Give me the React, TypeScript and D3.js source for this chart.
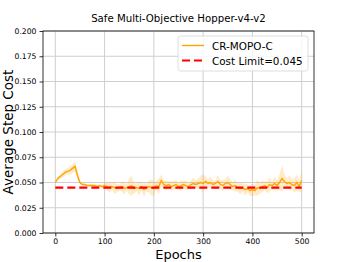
import { useEffect, useRef } from "react";
import * as d3 from "d3";

// epochs sampled every 5
const epochs = [
  0, 5, 10, 15, 20, 25, 30, 35, 40, 45, 50, 55, 60, 65, 70, 75, 80, 85, 90, 95,
  100, 105, 110, 115, 120, 125, 130, 135, 140, 145, 150, 155, 160, 165, 170, 175, 180, 185, 190, 195,
  200, 205, 210, 215, 220, 225, 230, 235, 240, 245, 250, 255, 260, 265, 270, 275, 280, 285, 290, 295,
  300, 305, 310, 315, 320, 325, 330, 335, 340, 345, 350, 355, 360, 365, 370, 375, 380, 385, 390, 395,
  400, 405, 410, 415, 420, 425, 430, 435, 440, 445, 450, 455, 460, 465, 470, 475, 480, 485, 490, 495, 500,
];

const meanCost = [
  0.05, 0.054, 0.056, 0.058, 0.06, 0.061, 0.062, 0.064, 0.066, 0.057, 0.05, 0.048, 0.048, 0.047, 0.047, 0.047, 0.047, 0.046, 0.047, 0.046,
  0.047, 0.046, 0.045, 0.046, 0.045, 0.044, 0.045, 0.046, 0.044, 0.045, 0.046, 0.047, 0.044, 0.045, 0.044, 0.046, 0.043, 0.045, 0.046, 0.045,
  0.044, 0.047, 0.046, 0.052, 0.048, 0.047, 0.048, 0.046, 0.047, 0.048, 0.046, 0.047, 0.048, 0.047, 0.046, 0.048, 0.049, 0.048, 0.049, 0.05,
  0.049, 0.051, 0.049, 0.05, 0.048, 0.049, 0.051, 0.048, 0.047, 0.049, 0.05, 0.048, 0.046, 0.047, 0.045, 0.044, 0.045, 0.043, 0.044, 0.042,
  0.043, 0.042, 0.045, 0.044, 0.046, 0.047, 0.045, 0.048, 0.047, 0.049, 0.047, 0.05, 0.054, 0.051, 0.049, 0.05, 0.048, 0.047, 0.05, 0.046, 0.052,
];

const costSpread = [
  0.001, 0.002, 0.002, 0.003, 0.003, 0.003, 0.004, 0.004, 0.005, 0.004, 0.002, 0.001, 0.001, 0.001, 0.001, 0.002, 0.001, 0.002, 0.001, 0.002,
  0.003, 0.004, 0.005, 0.003, 0.006, 0.004, 0.003, 0.005, 0.006, 0.003, 0.008, 0.01, 0.005, 0.004, 0.007, 0.004, 0.007, 0.004, 0.006, 0.008,
  0.007, 0.004, 0.008, 0.006, 0.004, 0.005, 0.003, 0.005, 0.004, 0.005, 0.003, 0.005, 0.004, 0.005, 0.003, 0.004, 0.006, 0.004, 0.005, 0.007,
  0.009, 0.005, 0.004, 0.006, 0.004, 0.003, 0.006, 0.004, 0.006, 0.004, 0.007, 0.005, 0.004, 0.006, 0.004, 0.006, 0.004, 0.006, 0.004, 0.005,
  0.006, 0.005, 0.008, 0.005, 0.006, 0.004, 0.006, 0.007, 0.004, 0.007, 0.005, 0.008, 0.013, 0.007, 0.005, 0.007, 0.005, 0.007, 0.008, 0.006, 0.011,
];

const costLimit = 0.045;
const xTicks = [0, 100, 200, 300, 400, 500];
const yTicks = [0, 0.025, 0.05, 0.075, 0.1, 0.125, 0.15, 0.175, 0.2];

export default function App() {
  const svgRef = useRef<SVGSVGElement>(null);

  useEffect(() => {
    if (!svgRef.current) return;
    const svg = d3.select(svgRef.current);
    svg.selectAll("*").remove();

    const margin = { top: 31, right: 35, bottom: 29, left: 43 };
    const width = 349;
    const height = 262;
    const font = "DejaVu Sans, sans-serif";

    const x = d3.scaleLinear().domain([-25, 525]).range([margin.left, width - margin.right]);
    const y = d3.scaleLinear().domain([0, 0.2]).range([height - margin.bottom, margin.top]);

    const pts = epochs.map((e, i) => ({ e, m: meanCost[i], s: costSpread[i] }));

    // grid
    const grid = svg.append("g");
    grid
      .selectAll(".gx")
      .data(xTicks)
      .enter()
      .append("line")
      .attr("x1", (d) => x(d))
      .attr("x2", (d) => x(d))
      .attr("y1", y(0))
      .attr("y2", y(0.2))
      .attr("stroke", "#cfcfcf")
      .attr("stroke-width", 1);
    grid
      .selectAll(".gy")
      .data(yTicks)
      .enter()
      .append("line")
      .attr("x1", x(-25))
      .attr("x2", x(525))
      .attr("y1", (d) => y(d))
      .attr("y2", (d) => y(d))
      .attr("stroke", "#cfcfcf")
      .attr("stroke-width", 1);

    // band
    const area = d3
      .area<{ e: number; m: number; s: number }>()
      .x((d) => x(d.e))
      .y0((d) => y(d.m - d.s))
      .y1((d) => y(d.m + d.s));
    svg.append("path").attr("d", area(pts)).attr("fill", "#ffa500").attr("opacity", 0.22);

    const line = d3
      .line<{ e: number; m: number; s: number }>()
      .x((d) => x(d.e))
      .y((d) => y(d.m));
    svg
      .append("path")
      .attr("d", line(pts))
      .attr("fill", "none")
      .attr("stroke", "#ffa500")
      .attr("stroke-width", 1.4);

    // cost limit
    svg
      .append("line")
      .attr("x1", x(0))
      .attr("x2", x(500))
      .attr("y1", y(costLimit))
      .attr("y2", y(costLimit))
      .attr("stroke", "red")
      .attr("stroke-width", 2.2)
      .attr("stroke-dasharray", "8,4");

    // axes
    const xAxis = svg
      .append("g")
      .attr("transform", `translate(0,${y(0)})`)
      .call(d3.axisBottom(x).tickValues(xTicks).tickSize(3.5).tickPadding(2));
    const yAxis = svg
      .append("g")
      .attr("transform", `translate(${x(-25)},0)`)
      .call(
        d3
          .axisLeft(y)
          .tickValues(yTicks)
          .tickSize(3.5)
          .tickPadding(3)
          .tickFormat((d) => (d as number).toFixed(3))
      );
    [xAxis, yAxis].forEach((a) => {
      a.select(".domain").remove();
      a.selectAll("line").attr("stroke", "#000").attr("stroke-width", 0.8);
      a.selectAll("text").attr("fill", "#000").style("font-family", font).style("font-size", "7.7px");
    });

    // frame
    svg
      .append("rect")
      .attr("x", x(-25))
      .attr("y", y(0.2))
      .attr("width", x(525) - x(-25))
      .attr("height", y(0) - y(0.2))
      .attr("fill", "none")
      .attr("stroke", "#000")
      .attr("stroke-width", 0.8);

    // title & labels
    svg
      .append("text")
      .attr("x", (x(-25) + x(525)) / 2)
      .attr("y", 22)
      .attr("text-anchor", "middle")
      .style("font-family", font)
      .style("font-size", "10.2px")
      .text("Safe Multi-Objective Hopper-v4-v2");
    svg
      .append("text")
      .attr("x", (x(-25) + x(525)) / 2)
      .attr("y", 258.5)
      .attr("text-anchor", "middle")
      .style("font-family", font)
      .style("font-size", "13px")
      .text("Epochs");
    svg
      .append("text")
      .attr("transform", `translate(12.5,${(y(0) + y(0.2)) / 2}) rotate(-90)`)
      .attr("text-anchor", "middle")
      .style("font-family", font)
      .style("font-size", "13.5px")
      .text("Average Step Cost");

    // legend
    const lg = svg.append("g").attr("transform", "translate(178,36)");
    lg.append("rect")
      .attr("width", 130)
      .attr("height", 35)
      .attr("rx", 2.5)
      .attr("fill", "#fff")
      .attr("fill-opacity", 0.8)
      .attr("stroke", "#d6d6d6")
      .attr("stroke-width", 0.8);
    lg.append("line")
      .attr("x1", 4)
      .attr("x2", 26)
      .attr("y1", 9.5)
      .attr("y2", 9.5)
      .attr("stroke", "#ffa500")
      .attr("stroke-width", 1.4);
    lg.append("line")
      .attr("x1", 4)
      .attr("x2", 26)
      .attr("y1", 24.5)
      .attr("y2", 24.5)
      .attr("stroke", "red")
      .attr("stroke-width", 2.2)
      .attr("stroke-dasharray", "8,4");
    lg.append("text")
      .attr("x", 34)
      .attr("y", 13.5)
      .style("font-family", font)
      .style("font-size", "10.4px")
      .text("CR-MOPO-C");
    lg.append("text")
      .attr("x", 34)
      .attr("y", 28.5)
      .style("font-family", font)
      .style("font-size", "10.4px")
      .text("Cost Limit=0.045");
  }, []);

  return (
    <svg
      ref={svgRef}
      width={349}
      height={262}
      style={{ position: "absolute", left: 0, top: 0, background: "#fff" }}
    />
  );
}
